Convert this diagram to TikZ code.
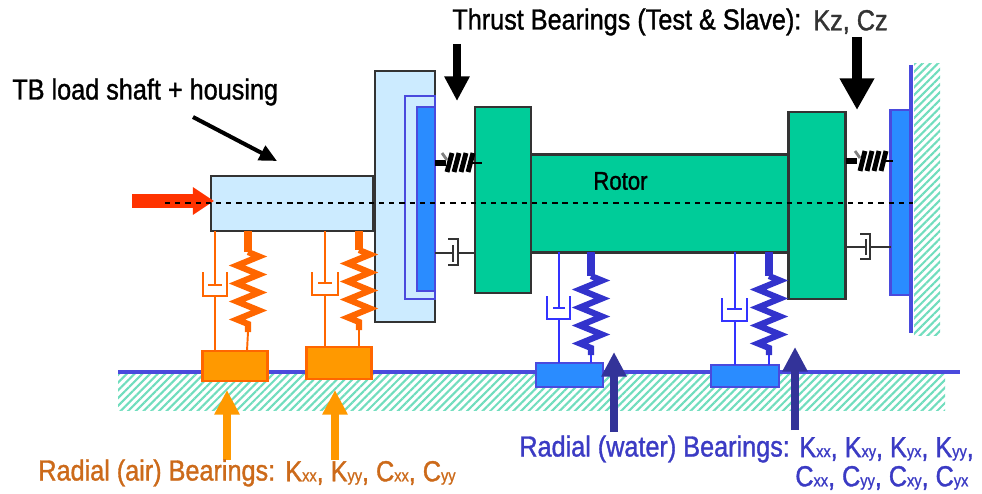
\documentclass[tikz,border=0pt]{standalone}
\usepackage{fontspec}
\usepackage{tikz}
\usetikzlibrary{arrows.meta,patterns.meta,decorations.pathmorphing}
\setmainfont[FakeStretch=0.87,FakeBold=1.2]{Liberation Sans}
\definecolor{paleblue}{HTML}{CCEBFF}
\definecolor{plateblue}{HTML}{2A8CFF}
\definecolor{edgeblue}{HTML}{4A4ADD}
\definecolor{rotorgreen}{HTML}{00CC99}
\definecolor{hatchgreen}{HTML}{70DDBD}
\definecolor{darkorange}{HTML}{FF6600}
\definecolor{blockorange}{HTML}{FF9900}
\definecolor{textorange}{HTML}{CC6A1A}
\definecolor{arrowblue}{HTML}{333399}
\definecolor{springblue}{HTML}{3333CC}
\definecolor{thinblue}{HTML}{3333FF}
\definecolor{textblue}{HTML}{3B3BC4}
\definecolor{arrowred}{HTML}{FF3300}
\tikzset{
  part/.style={draw=#1, line width=1.4pt, inner sep=0pt, outer sep=0pt},
  hatch/.style={pattern={Lines[angle=45,distance=3.1pt,line width=1.2pt]}, pattern color=hatchgreen},
  orthin/.style={draw=darkorange, line width=1.1pt},
  blthin/.style={draw=thinblue, line width=1.1pt},
  grthin/.style={draw=black!80, line width=1.1pt},
  stem/.style={line width=4.3pt},
  zig/.style={line width=3.5pt, decorate, decoration={zigzag, segment length=.36cm, amplitude=.22cm}},
  blockarrow/.style={line width=4.5pt, -{Triangle[length=14pt,width=13.6pt]}},
  bigarrow/.style={line width=5.6pt, -{Triangle[length=18pt,width=18.6pt]}},
  lab/.style={inner sep=0pt, anchor=west, font=\fontsize{16.5pt}{18pt}\selectfont}
}
\newcommand{\sm}[1]{{\fontsize{9.5pt}{12pt}\selectfont #1}}

\begin{document}
\begin{tikzpicture}[x=0.02cm,y=-0.02cm]
\useasboundingbox (0,0) rectangle (982,493);

% ground and wall
\fill[hatch] (118,374) rectangle (945,410);
\fill[hatch] (914,64) rectangle (940,335);
\draw[edgeblue, line width=2.2pt] (118,372) coordinate (g_1) -- (960,372) coordinate (g_2);
\draw[edgeblue, line width=2.2pt] (911,65) coordinate (w_1) -- (911,333) coordinate (w_2);

% shaft, housing
\node[part=black!80, fill=paleblue, minimum width=3.24cm, minimum height=1.1cm] (shaft) at (292,203.5) {};
\node[part=black!80, fill=paleblue, minimum width=1.2cm, minimum height=5.02cm] (housing) at (405,196.5) {};
\node[part=edgeblue, minimum width=.6cm, minimum height=4.06cm] (recess) at (420,197.5) {};
\node[part=edgeblue, fill=plateblue, minimum width=.36cm, minimum height=3.68cm] (plate) at (426,199) {};

% rotor
\node[part=black!80, fill=rotorgreen, minimum width=5.16cm, minimum height=1.96cm] (rotor) at (660,203.5) {};
\node[part=black!80, fill=rotorgreen, minimum width=1.12cm, minimum height=3.72cm] (disc_l) at (503,200) {};
\node[part=black!80, fill=rotorgreen, minimum width=1.14cm, minimum height=3.74cm] (disc_r) at (817,205.5) {};
\node[part=edgeblue, fill=plateblue, minimum width=.4cm, minimum height=3.7cm] (plate_r) at (900.5,202.5) {};

% bearing blocks
\node[part=darkorange, fill=blockorange, minimum width=1.3cm, minimum height=.6cm] (air_a) at (235,366) {};
\node[part=darkorange, fill=blockorange, minimum width=1.3cm, minimum height=.64cm] (air_b) at (339,363) {};
\node[part=edgeblue, fill=plateblue, minimum width=1.34cm, minimum height=.48cm] (water_a) at (569.5,375) {};
\node[part=edgeblue, fill=plateblue, minimum width=1.36cm, minimum height=.44cm] (water_b) at (745,376) {};

% air bearings
\draw[orthin] (shaft.south -| 215,0) -- (215,285);
\draw[orthin] (208,285) -- (222,285);
\draw[orthin] (203,272) -- (203,296) -- (227,296) -- (227,272);
\draw[orthin] (215,296) -- (air_a.north -| 215,0);
\draw[darkorange, stem] (shaft.south -| 248,0) -- (248,252) coordinate (s_1);
\draw[darkorange, zig] (s_1) -- (248,332) coordinate (s_2);
\draw[orthin] (s_2) -- (air_a.north -| 247,0);

\draw[orthin] (shaft.south -| 325,0) -- (325,283);
\draw[orthin] (318,283) -- (332,283);
\draw[orthin] (312,272) -- (312,295) -- (338,295) -- (338,272);
\draw[orthin] (325,295) -- (air_b.north -| 325,0);
\draw[darkorange, stem] (shaft.south -| 359,0) -- (359,250) coordinate (s_3);
\draw[darkorange, zig] (s_3) -- (359,330) coordinate (s_4);
\draw[orthin] (s_4) -- (air_b.north -| 359,0);

% water bearings
\draw[blthin] (rotor.south -| 559,0) -- (559,308);
\draw[blthin] (553,308) -- (565,308);
\draw[blthin] (547,296) -- (547,319) -- (570,319) -- (570,296);
\draw[blthin] (559,319) -- (water_a.north -| 559,0);
\draw[springblue, stem] (rotor.south -| 591,0) -- (591,276) coordinate (s_5);
\draw[springblue, zig] (s_5) -- (591,355) coordinate (s_6);
\draw[blthin] (s_6) -- (water_a.north -| 591,0);

\draw[blthin] (rotor.south -| 735,0) -- (735,309);
\draw[blthin] (727,309) -- (742,309);
\draw[blthin] (722,298) -- (722,321) -- (747,321) -- (747,298);
\draw[blthin] (735,321) -- (water_b.north -| 735,0);
\draw[springblue, stem] (rotor.south -| 769,0) -- (769,276) coordinate (s_7);
\draw[springblue, zig] (s_7) -- (769,355) coordinate (s_8);
\draw[blthin] (s_8) -- (water_b.north -| 769,0);

% thrust bearings
\draw[line width=3pt] (plate.east |- 0,163) -- (446,163);
\draw[black!50, line width=1.6pt] (442,153) -- (447,160);
\draw[line width=2.8pt] (447,172) -- (452,153) (454,172) -- (459,153) (461,172) -- (466,153) (468,172) -- (473,153);
\draw[line width=1.2pt] (470,163) -- (482,163);
\draw[grthin] (plate.east |- 0,253) -- (453,253);
\draw[grthin] (453,245) -- (453,262);
\draw[grthin] (448,239) -- (458,239) -- (458,265) -- (448,265);
\draw[grthin] (458,253) -- (disc_l.west |- 0,253);

\draw[line width=3pt] (disc_r.east |- 0,161) -- (857,161);
\draw[black!50, line width=1.6pt] (855,151) -- (860,158);
\draw[line width=2.8pt] (860,171) -- (865,151) (867,171) -- (872,151) (874,171) -- (879,151) (881,171) -- (886,151);
\draw[line width=1.2pt] (883,161) -- (893,161);
\draw[grthin] (disc_r.east |- 0,247) -- (866,247);
\draw[grthin] (866,239) -- (866,255);
\draw[grthin] (860,234) -- (870,234) -- (870,259) -- (860,259);
\draw[grthin] (870,247) -- (plate_r.west |- 0,247);

% arrows
\draw[-{Triangle[length=12pt,width=15pt]}, color=arrowred, line width=8pt] (132,201) coordinate (r_1) -- (214,201) coordinate (r_2);
\draw[-{Triangle[length=10pt,width=9pt]}, line width=2.3pt] (193,117) coordinate (a_1) -- (277,161) coordinate (a_2);
\draw[blockorange, blockarrow] (227,460) coordinate (o_1) -- (227,390) coordinate (o_2);
\draw[blockorange, blockarrow] (335,460) coordinate (o_3) -- (335,390) coordinate (o_4);
\draw[arrowblue, blockarrow] (614,432) coordinate (b_1) -- (614,352) coordinate (b_2);
\draw[arrowblue, blockarrow] (795,430) coordinate (b_3) -- (795,347) coordinate (b_4);
\draw[blockarrow, line width=4.6pt] (457,44) coordinate (k_1) -- (457,101) coordinate (k_2);
\draw[bigarrow] (857,37) coordinate (k_3) -- (857,110) coordinate (k_4);

% centre line
\draw[line width=1pt, dash pattern=on 3pt off 2.8pt] (165,203) coordinate (c_1) -- (913,203) coordinate (c_2);

% labels
\node[lab] (tb) at (12,92) {TB load shaft + housing};
\node[lab] (thrust) at (452,22) {Thrust Bearings (Test \& Slave):};
\node[lab, text=black!80] (kz) at (813,22) {Kz, Cz};
\node[lab, font=\fontsize{14.5pt}{16pt}\selectfont] (rotorlab) at (593,181) {Rotor};
\node[lab, text=textorange] (air) at (38,473) {Radial (air) Bearings:};
\node[lab, text=textorange] (airk) at (285,473) {K\sm{xx}, K\sm{yy}, C\sm{xx}, C\sm{yy}};
\node[lab, text=textblue] (water) at (519,449) {Radial (water) Bearings:};
\node[lab, text=textblue] (waterk) at (799,449) {K\sm{xx}, K\sm{xy}, K\sm{yx}, K\sm{yy},};
\node[lab, text=textblue] (waterc) at (795,478) {C\sm{xx}, C\sm{yy}, C\sm{xy}, C\sm{yx}};
\end{tikzpicture}
\end{document}
